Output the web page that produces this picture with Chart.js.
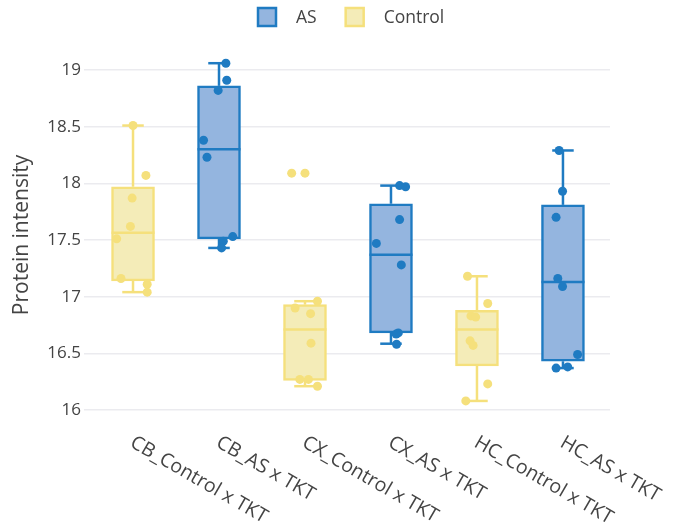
<!DOCTYPE html>
<html>
<head>
<meta charset="utf-8">
<script src="https://cdn.jsdelivr.net/npm/chart.js@4.4.1/dist/chart.umd.min.js"></script>
<style>
  html, body { margin: 0; padding: 0; background: #ffffff; }
  #wrap { width: 685px; height: 529px; }
</style>
</head>
<body>
<div id="wrap"><canvas id="chart" width="685" height="529"></canvas></div>
<script>
// Sample groups along the x axis
const categories = [
  'CB_Control x TKT', 'CB_AS x TKT',
  'CX_Control x TKT', 'CX_AS x TKT',
  'HC_Control x TKT', 'HC_AS x TKT'
];
const seriesNames = ['AS', 'Control'];

// Category index of each box per series
const asIndex = [1, 3, 5];
const controlIndex = [0, 2, 4];

// Box statistics: lower whisker, Q1, median, Q3, upper whisker
const asLow    = [17.43, 16.585, 16.37];
const asQ1     = [17.51, 16.68, 16.43];
const asMedian = [18.30, 17.37, 17.13];
const asQ3     = [18.86, 17.82, 17.81];
const asHigh   = [19.06, 17.98, 18.29];

const controlLow    = [17.04, 16.21, 16.08];
const controlQ1     = [17.14, 16.26, 16.39];
const controlMedian = [17.565, 16.71, 16.71];
const controlQ3     = [17.97, 16.93, 16.88];
const controlHigh   = [18.51, 16.96, 17.18];

// Individual sample values
const asPoints = [
  [19.06, 18.91, 18.82, 18.38, 18.23, 17.53, 17.49, 17.43],
  [17.98, 17.97, 17.68, 17.47, 17.28, 16.68, 16.67, 16.58],
  [18.29, 17.93, 17.70, 17.16, 17.09, 16.49, 16.37, 16.38]
];
const controlPoints = [
  [18.51, 18.07, 17.87, 17.62, 17.51, 17.16, 17.11, 17.04],
  [18.09, 18.09, 16.90, 16.96, 16.85, 16.59, 16.27, 16.27, 16.21],
  [17.18, 16.94, 16.83, 16.82, 16.61, 16.57, 16.23, 16.08]
];

// Horizontal jitter of the sample points (fraction of a category)
const asJitter = [
  [0.08, 0.09, -0.01, -0.18, -0.14, 0.16, 0.05, 0.03],
  [0.10, 0.17, 0.10, -0.17, 0.12, 0.085, 0.06, 0.065],
  [-0.045, -0.005, -0.08, -0.06, -0.005, 0.17, -0.08, 0.055]
];
const controlJitter = [
  [0.00, 0.15, -0.01, -0.03, -0.19, -0.14, 0.165, 0.165],
  [-0.155, 0.00, -0.115, 0.145, 0.065, 0.07, -0.06, 0.04, 0.145],
  [-0.11, 0.125, -0.07, -0.015, -0.08, -0.045, 0.125, -0.13]
];

const yTicks = [16, 16.5, 17, 17.5, 18, 18.5, 19];

const AS_LINE = '#1f7bc2';
const AS_FILL = '#94b5df';
const CTRL_LINE = '#f5e07c';
const CTRL_FILL = '#f4ecb8';
const TEXT = '#444444';
const FONT = '"Open Sans", "DejaVu Sans", Arial, sans-serif';

function boxData(idx, q1, q3) {
  return idx.map((c, i) => ({ x: c, y: [q1[i], q3[i]] }));
}
function boxStats(idx, lo, q1, med, q3, hi) {
  return idx.map((c, i) => ({ pos: c, low: lo[i], q1: q1[i], median: med[i], q3: q3[i], high: hi[i] }));
}
function pointData(idx, pts, jit) {
  const out = [];
  idx.forEach((c, i) => pts[i].forEach((v, j) => out.push({ x: c + jit[i][j], y: v })));
  return out;
}

// Whiskers, caps and median lines on top of each box
const whiskerPlugin = {
  id: 'whiskers',
  afterDatasetDraw(chart, args) {
    const ds = chart.data.datasets[args.index];
    if (!ds.stats) return;
    const { ctx, scales: { y } } = chart;
    const meta = chart.getDatasetMeta(args.index);
    ctx.save();
    ctx.strokeStyle = ds.borderColor;
    ctx.lineWidth = 2.5;
    ds.stats.forEach((s, j) => {
      const bar = meta.data[j];
      const cx = bar.x;
      const half = bar.width / 2;
      const cap = bar.width / 4;
      const seg = (x1, y1, x2, y2) => { ctx.beginPath(); ctx.moveTo(x1, y1); ctx.lineTo(x2, y2); ctx.stroke(); };
      seg(cx - half, y.getPixelForValue(s.median), cx + half, y.getPixelForValue(s.median));
      seg(cx, y.getPixelForValue(s.q3), cx, y.getPixelForValue(s.high));
      seg(cx - cap, y.getPixelForValue(s.high), cx + cap, y.getPixelForValue(s.high));
      seg(cx, y.getPixelForValue(s.q1), cx, y.getPixelForValue(s.low));
      seg(cx - cap, y.getPixelForValue(s.low), cx + cap, y.getPixelForValue(s.low));
    });
    ctx.restore();
  }
};

// Slanted category labels and the top legend
const labelsPlugin = {
  id: 'labels',
  afterDraw(chart) {
    const { ctx, scales: { x }, chartArea } = chart;
    ctx.save();
    ctx.fillStyle = TEXT;
    ctx.font = '19.5px ' + FONT;
    ctx.textAlign = 'left';
    ctx.textBaseline = 'alphabetic';
    categories.forEach((lab, i) => {
      ctx.save();
      ctx.translate(x.getPixelForValue(i) - 4, chartArea.bottom + 26);
      ctx.rotate(Math.PI / 6);
      ctx.fillText(lab, 0, 0);
      ctx.restore();
    });

    // legend
    const items = [
      { name: seriesNames[0], line: AS_LINE, fill: AS_FILL },
      { name: seriesNames[1], line: CTRL_LINE, fill: CTRL_FILL }
    ];
    ctx.font = '17.5px ' + FONT;
    let lx = 258;
    const ly = 8, sz = 18;
    ctx.textBaseline = 'middle';
    items.forEach(it => {
      ctx.fillStyle = it.fill;
      ctx.fillRect(lx, ly, sz, sz);
      ctx.strokeStyle = it.line;
      ctx.lineWidth = 2.5;
      ctx.strokeRect(lx, ly, sz, sz);
      ctx.fillStyle = TEXT;
      ctx.fillText(it.name, lx + sz + 20, ly + sz / 2 + 1);
      lx += sz + 20 + ctx.measureText(it.name).width + 29;
    });
    ctx.restore();
  }
};

new Chart(document.getElementById('chart'), {
  type: 'bar',
  data: {
    datasets: [
      {
        type: 'scatter', label: 'AS points', order: 1,
        data: pointData(asIndex, asPoints, asJitter),
        backgroundColor: AS_LINE, borderWidth: 0, pointRadius: 4.5, pointHoverRadius: 4.5
      },
      {
        type: 'scatter', label: 'Control points', order: 1,
        data: pointData(controlIndex, controlPoints, controlJitter),
        backgroundColor: CTRL_LINE, borderWidth: 0, pointRadius: 4.5, pointHoverRadius: 4.5
      },
      {
        type: 'bar', label: 'AS', order: 2, grouped: false,
        data: boxData(asIndex, asQ1, asQ3),
        stats: boxStats(asIndex, asLow, asQ1, asMedian, asQ3, asHigh),
        backgroundColor: AS_FILL, borderColor: AS_LINE, borderWidth: 2.5,
        borderSkipped: false, barThickness: 43
      },
      {
        type: 'bar', label: 'Control', order: 2, grouped: false,
        data: boxData(controlIndex, controlQ1, controlQ3),
        stats: boxStats(controlIndex, controlLow, controlQ1, controlMedian, controlQ3, controlHigh),
        backgroundColor: CTRL_FILL, borderColor: CTRL_LINE, borderWidth: 2.5,
        borderSkipped: false, barThickness: 43
      }
    ]
  },
  options: {
    responsive: false,
    animation: false,
    devicePixelRatio: 1,
    layout: { padding: { top: 50, right: 75, left: 0, bottom: 0 } },
    plugins: { legend: { display: false }, tooltip: { enabled: false } },
    scales: {
      x: {
        type: 'linear', bounds: 'data', offset: false,
        min: -0.57, max: 5.547,
        grid: { display: false }, border: { display: false },
        ticks: { display: false },
        afterFit(s) { s.height = 109; }
      },
      y: {
        type: 'linear', bounds: 'data',
        min: 15.9118, max: 19.1765,
        afterBuildTicks(s) { s.ticks = yTicks.map(v => ({ value: v })); },
        grid: { color: '#ebebef', lineWidth: 1.5, drawTicks: false },
        border: { display: false },
        ticks: {
          color: TEXT, padding: 3,
          font: { family: FONT, size: 17 },
          callback: v => String(v)
        },
        title: {
          display: true, text: 'Protein intensity', color: TEXT,
          font: { family: FONT, size: 21 },
          padding: { top: 9, bottom: 0 }
        },
        afterFit(s) { s.width = 84; }
      }
    }
  },
  plugins: [whiskerPlugin, labelsPlugin]
});
</script>
</body>
</html>
